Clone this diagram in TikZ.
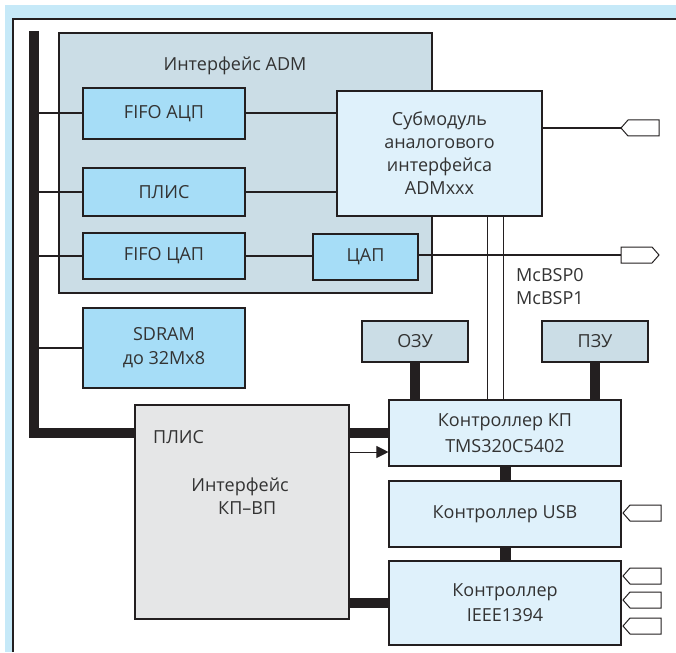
\documentclass[tikz,border=0pt]{standalone}
\usepackage{fontspec}
\setmainfont{Open Sans}
\usetikzlibrary{arrows.meta}
\definecolor{frameblue}{HTML}{C6E9F8}
\definecolor{grayblue}{HTML}{CBDDE6}
\definecolor{midblue}{HTML}{A6DDF7}
\definecolor{paleblue}{HTML}{DFF1FB}
\definecolor{lgray}{HTML}{E5E6E7}
\definecolor{ink}{HTML}{231F20}
\definecolor{txt}{HTML}{333333}
\tikzset{
  box/.style={draw=ink, line width=1.1pt, inner sep=0pt, align=center, text=txt, font=\fontsize{18}{24}\selectfont},
  lab/.style={inner sep=0pt, text=txt, font=\fontsize{18}{23}\selectfont},
  wire/.style={draw=ink, line width=2pt},
  thinwire/.style={draw=ink, line width=1pt},
  bus/.style={draw=ink, line width=10pt},
  conn/.style={draw=ink, line width=1pt, fill=white, line join=miter},
}
\begin{document}
\begin{tikzpicture}[x=1pt,y=-1pt]
\useasboundingbox (0,0) rectangle (676,652);
% frame
\fill[frameblue] (5,5) rectangle (676,652);
\fill[white] (13,19) rectangle (676,652);
\draw[ink, line width=1.2pt] (13,652) -- (13,19) -- (676,19);

% ADM interface area
\node[box, fill=grayblue, minimum width=373pt, minimum height=260pt] (adm) at (245.5,163) {};
\node[lab] (admlab) at (235,66) {Интерфейс ADM};

\node[box, fill=midblue, minimum width=162pt, minimum height=51pt] (fifoadc) at (164,113.5) {FIFO АЦП};
\node[box, fill=midblue, minimum width=162pt, minimum height=48pt] (plis1) at (164,192) {ПЛИС};
\node[box, fill=midblue, minimum width=162pt, minimum height=46pt] (fifodac) at (164,256) {FIFO ЦАП};
\node[box, fill=midblue, minimum width=162pt, minimum height=80pt] (sdram) at (164,348) {SDRAM\\до 32Мх8};
\node[box, fill=paleblue, minimum width=205pt, minimum height=125pt, font=\fontsize{18}{23}\selectfont] (sub) at (439.5,153.5) {Субмодуль\\аналогового\\интерфейса\\ADMxxx};
\node[box, fill=midblue, minimum width=105pt, minimum height=46pt] (dac) at (365.5,257) {ЦАП};

\node[box, fill=grayblue, minimum width=106pt, minimum height=41pt] (ozu) at (415,341.5) {ОЗУ};
\node[box, fill=grayblue, minimum width=106pt, minimum height=41pt] (pzu) at (595,341.5) {ПЗУ};

\node[box, fill=paleblue, minimum width=232pt, minimum height=66pt, font=\fontsize{18}{26}\selectfont] (kp) at (505,433) {Контроллер КП\\TMS320C5402};
\node[box, fill=paleblue, minimum width=232pt, minimum height=66pt] (usb) at (505,514) {Контроллер USB};
\node[box, fill=paleblue, minimum width=232pt, minimum height=84pt, font=\fontsize{18}{25}\selectfont] (ieee) at (505,603) {Контроллер\\IEEE1394};

\node[box, fill=lgray, minimum width=214pt, minimum height=214pt] (plis2) at (242,512) {};
\node[lab, anchor=west] (plis2lab) at (153,437) {ПЛИС};
\node[lab, align=center] (plis2txt) at (240,496) {Интерфейс\\\hspace*{0.8em}КП–ВП};

\node[lab, align=left, anchor=west] (mcbsp) at (516,287) {McBSP0\\McBSP1};

% bus
\coordinate (busTop) at (34,31);
\draw[bus] (busTop) |- (plis2.west |- kp.center);
\draw[wire] (busTop |- fifoadc.west) -- (fifoadc.west);
\draw[wire] (busTop |- plis1.west) -- (plis1.west);
\draw[wire] (busTop |- fifodac.west) -- (fifodac.west);
\draw[wire] (busTop |- sdram.west) -- (sdram.west);

% inside ADM
\draw[wire] (fifoadc.east) -- (fifoadc.east -| sub.west);
\draw[wire] (plis1.east) -- (plis1.east -| sub.west);
\draw[wire] (fifodac.east) -- (fifodac.east -| dac.west);

% connectors
\coordinate (in1) at (621,128);
\coordinate (out1) at (621,255);
\coordinate (inusb) at (623,513);
\coordinate (inA) at (623,576);
\coordinate (inB) at (623,600);
\coordinate (inC) at (623,626);
\draw[wire] (sub.east |- in1) -- (in1);
\draw[wire] (dac.east |- out1) -- (out1);
\foreach \c in {in1,inusb,inA,inB,inC}
  \draw[conn] (\c) -- ++(7,-8) -- ++(31,0) -- ++(0,16) -- ++(-31,0) -- cycle;
\draw[conn] (out1) -- ++(0,-8) -- ++(31,0) -- ++(7,8) -- ++(-7,8) -- ++(-31,0) -- cycle;

% McBSP lines
\draw[thinwire] ([xshift=47.5pt]sub.south) -- ([xshift=47.5pt]sub.south |- kp.north);
\draw[thinwire] ([xshift=63.5pt]sub.south) -- ([xshift=63.5pt]sub.south |- kp.north);

% thick links
\draw[bus] (ozu.south) -- (ozu.south |- kp.north);
\draw[bus] (pzu.south) -- (pzu.south |- kp.north);
\draw[bus] (plis2.east |- kp.center) -- (kp.west);
\coordinate (arr) at ([yshift=-19pt]kp.west);
\draw[thinwire, -{Triangle[length=12pt,width=12pt]}] (arr -| plis2.east) -- (arr);
\draw[draw=ink, line width=11pt] (kp.south) -- (usb.north);
\draw[draw=ink, line width=11pt] (usb.south) -- (ieee.north);
\draw[bus] (plis2.east |- ieee.center) -- (ieee.west);
\end{tikzpicture}
\end{document}
